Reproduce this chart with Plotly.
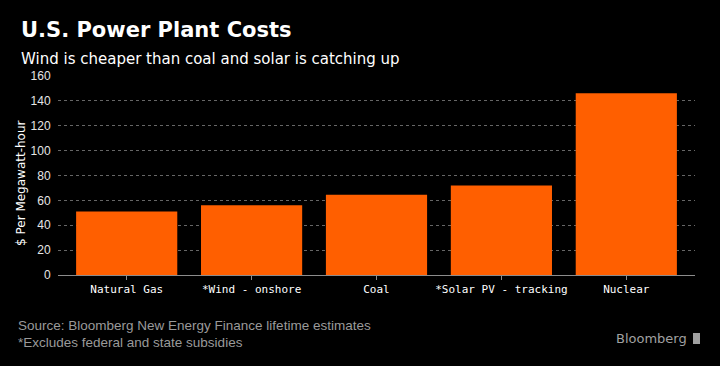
import plotly.graph_objects as go

categories = ["Natural Gas", "*Wind - onshore", "Coal", "*Solar PV - tracking", "Nuclear"]
costs = [51, 56, 64.5, 72, 146]
y_ticks = [0, 20, 40, 60, 80, 100, 120, 140, 160]

W, H = 720, 366
ML, MR, MT, MB = 58, 25, 75, 91
PW = W - ML - MR
PH = H - MT - MB


def px(x):
    return (x - ML) / PW


def py(y):
    return (H - MB - y) / PH


fig = go.Figure(
    go.Bar(
        x=categories,
        y=costs,
        marker=dict(color="#ff5f00", line=dict(width=0)),
        hoverinfo="x+y",
    )
)

fig.update_layout(
    width=W,
    height=H,
    margin=dict(l=ML, r=MR, t=MT, b=MB),
    paper_bgcolor="#000000",
    plot_bgcolor="#000000",
    bargap=0.19,
    showlegend=False,
    font=dict(family="DejaVu Sans", color="#ffffff"),
    xaxis=dict(
        range=[-0.55, 4.55],
        showline=True,
        linecolor="#8c8c8c",
        linewidth=1,
        ticks="outside",
        ticklen=4,
        tickcolor="#8c8c8c",
        tickfont=dict(family="DejaVu Sans Mono", size=11, color="#ffffff"),
        showgrid=False,
        fixedrange=True,
    ),
    yaxis=dict(
        range=[0, 160.7],
        tickvals=y_ticks,
        showgrid=True,
        gridcolor="#666666",
        griddash="dot",
        gridwidth=1,
        zeroline=False,
        showline=False,
        ticks="outside",
        ticklen=4,
        tickcolor="#000000",
        tickfont=dict(family="Liberation Sans", size=12, color="#e6e6e6"),
        fixedrange=True,
    ),
)

annotations = [
    dict(text="<b>U.S. Power Plant Costs</b>", x=px(19), y=py(30),
         font=dict(family="DejaVu Sans", size=21, color="#ffffff")),
    dict(text="Wind is cheaper than coal and solar is catching up", x=px(19), y=py(59),
         font=dict(family="DejaVu Sans", size=15, color="#ffffff")),
    dict(text="Source: Bloomberg New Energy Finance lifetime estimates", x=px(16), y=py(325),
         font=dict(family="Liberation Sans", size=13.5, color="#9a9a9a")),
    dict(text="*Excludes federal and state subsidies", x=px(16), y=py(342),
         font=dict(family="Liberation Sans", size=13.5, color="#9a9a9a")),
    dict(text="Bloomberg", x=px(614), y=py(338),
         font=dict(family="DejaVu Sans", size=13, color="#a0a0a0")),
]
for a in annotations:
    a.update(xref="paper", yref="paper", xanchor="left", yanchor="middle",
             showarrow=False)
annotations.append(dict(
    text="$ Per Megawatt-hour", textangle=-90, x=px(21), y=py(183),
    xref="paper", yref="paper", xanchor="center", yanchor="middle",
    showarrow=False, font=dict(family="DejaVu Sans", size=12, color="#ffffff")))
fig.update_layout(annotations=annotations)

fig.add_shape(type="rect", xref="paper", yref="paper",
              x0=px(693), x1=px(700), y0=py(344), y1=py(333),
              fillcolor="#a0a0a0", line=dict(width=0))

fig.write_html("out.html",
               config={"displayModeBar": False},
               post_script="document.body.style.margin='0';document.body.style.background='#000';")
